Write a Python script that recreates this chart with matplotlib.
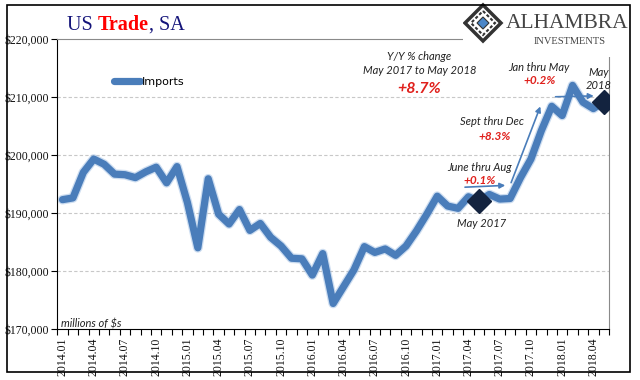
import numpy as np
import matplotlib
matplotlib.use("Agg")
import matplotlib.pyplot as plt
from matplotlib.patches import Rectangle, Polygon
from matplotlib.ticker import FuncFormatter, FixedLocator

# данные: импорт США, млн $, с сезонной корректировкой
months = ["2014.01", "2014.02", "2014.03", "2014.04", "2014.05", "2014.06",
          "2014.07", "2014.08", "2014.09", "2014.10", "2014.11", "2014.12",
          "2015.01", "2015.02", "2015.03", "2015.04", "2015.05", "2015.06",
          "2015.07", "2015.08", "2015.09", "2015.10", "2015.11", "2015.12",
          "2016.01", "2016.02", "2016.03", "2016.04", "2016.05", "2016.06",
          "2016.07", "2016.08", "2016.09", "2016.10", "2016.11", "2016.12",
          "2017.01", "2017.02", "2017.03", "2017.04", "2017.05", "2017.06",
          "2017.07", "2017.08", "2017.09", "2017.10", "2017.11", "2017.12",
          "2018.01", "2018.02", "2018.03", "2018.04", "2018.05"]
imports = [192300, 192600, 197000, 199300, 198400, 196700,
           196600, 196100, 197100, 197900, 195200, 198000,
           191800, 184000, 195900, 189800, 188100, 190600,
           187000, 188200, 185800, 184300, 182200, 182100,
           179300, 183000, 174400, 177300, 180200, 184200,
           183200, 183800, 182700, 184300, 186900, 189800,
           192900, 191200, 190800, 192800, 192000, 193200,
           192400, 192500, 196100, 199300, 204200, 208400,
           206800, 212000, 209100, 208000, 209200]
highlight = ["2017.05", "2018.05"]
y_ticks = [170000, 180000, 190000, 200000, 210000, 220000]

blue = "#4a7dba"
navy = "#13233f"
red = "#e0201c"
txt = "#222222"

fig = plt.figure(figsize=(6.4, 3.8), dpi=100)
ax = fig.add_axes([57.3 / 640, 51 / 380, 551.7 / 640, 290 / 380])

x = np.arange(len(months))
ax.plot(x, imports, color="#9dbde3", lw=7, alpha=0.5, solid_joinstyle="round",
        solid_capstyle="round", zorder=2)
ax.plot(x, imports, color=blue, lw=5.2, solid_joinstyle="round",
        solid_capstyle="round", zorder=3, label="Imports")
hi = [months.index(m) for m in highlight]
ax.plot(hi, [imports[i] for i in hi], ls="none", marker="D", ms=12.5,
        color=navy, zorder=5)

ax.set_xlim(-0.5, len(months) - 0.5)
ax.set_ylim(y_ticks[0], y_ticks[-1])
ax.yaxis.set_major_locator(FixedLocator(y_ticks))
ax.yaxis.set_major_formatter(FuncFormatter(lambda v, p: "${:,.0f}".format(v)))
ax.set_xticks(x[::3])
ax.set_xticklabels(months[::3], rotation=90)
ax.set_xticks(np.arange(-0.5, len(months)), minor=True)
ax.tick_params(axis="x", which="major", length=0, pad=6)
ax.tick_params(axis="x", which="minor", length=4, width=0.8, color="black")
ax.tick_params(axis="y", length=4, width=0.8, pad=2)
for lab in ax.get_xticklabels() + ax.get_yticklabels():
    lab.set_fontfamily("Liberation Serif")
    lab.set_fontsize(8.5)
    lab.set_color("#111111")

for v in y_ticks[1:-1]:
    ax.axhline(v, color="#c8c8c8", lw=0.8, ls=(0, (3, 2)), zorder=1)
ax.spines["left"].set_color("black")
ax.spines["bottom"].set_color("black")
ax.spines["top"].set_color("#8a8a8a")
ax.spines["right"].set_color("#8a8a8a")

leg = ax.legend(loc="upper left", bbox_to_anchor=(0.085, 0.905), frameon=False,
                handlelength=2.3, handletextpad=0.2, prop={"family": "DejaVu Sans", "size": 8})

# подписи
it = dict(fontsize=8, style="italic", family="Lato", color=txt, ha="center", va="center")
rb = dict(fontsize=8.5, style="italic", weight="bold", family="Lato", color=red,
          ha="center", va="center")
ax.text(34.3, 216900, "Y/Y % change", **it)
ax.text(34.3, 214650, "May 2017 to May 2018", **it)
ax.text(34.3, 211300, "+8.7%", **dict(rb, fontsize=11.5))
ax.text(45.8, 215170, "Jan thru May", **it)
ax.text(45.8, 212760, "+0.2%", **rb)
ax.text(51.5, 214140, "May", **it)
ax.text(51.5, 211900, "2018", **it)
ax.text(41.3, 205690, "Sept thru Dec", **it)
ax.text(41.5, 203270, "+8.3%", **rb)
ax.text(40.1, 197760, "June thru Aug", **it)
ax.text(40.1, 195520, "+0.1%", **rb)
ax.text(40.3, 188270, "May 2017", **it)
ax.text(-0.1, 170900, "millions of $s", **dict(it, ha="left"))

arr = dict(arrowstyle="-|>", color=blue, lw=1.2, mutation_scale=8)
ax.annotate("", xy=(42.8, 194780), xytext=(38.4, 194430), arrowprops=arr)
ax.annotate("", xy=(46.0, 208820), xytext=(43.0, 194780), arrowprops=arr)
ax.annotate("", xy=(51.3, 210200), xytext=(47.1, 210030), arrowprops=arr)

# заголовок из трёх частей
fig.canvas.draw()
rend = fig.canvas.get_renderer()
parts = [("US ", "#14147a", "normal"), ("Trade", "#ff0000", "bold"), (", SA", "#14147a", "normal")]
xp = 67 / 640
for s, c, w in parts:
    t = fig.text(xp, 1 - 25 / 380, s, color=c, weight=w, family="Liberation Serif",
                 fontsize=14.5, va="center", ha="left")
    bb = t.get_window_extent(rend)
    xp = bb.x1 / 640

# логотип
lg = fig.add_axes([463 / 640, 323 / 380, 162 / 640, 55 / 380])
lg.set_xlim(0, 162)
lg.set_ylim(0, 55)
lg.axis("off")
lg.add_patch(Rectangle((0, 0), 162, 55, color="white", zorder=0))
cx, cy, r = 20, 34, 18
lg.add_patch(Polygon([(cx, cy + r), (cx + r, cy), (cx, cy - r), (cx - r, cy)],
                     closed=True, fc="none", ec="#333333", lw=2.5))
lg.add_patch(Polygon([(cx, cy + r - 6), (cx + r - 6, cy), (cx, cy - r + 6), (cx - r + 6, cy)],
                     closed=True, fc="none", ec="#333333", lw=1.5, ls=(0, (1.5, 1))))
lg.add_patch(Polygon([(cx, cy + 6), (cx + 6, cy), (cx, cy - 6), (cx - 6, cy)],
                     closed=True, fc="#4a86c8", ec="#333333", lw=0.8))
lg.text(104, 34, "ALHAMBRA", family="Liberation Serif", fontsize=15.5, color="#444444",
        ha="center", va="center")
lg.text(107, 16, "INVESTMENTS", family="Liberation Serif", fontsize=7.5, color="#444444",
        ha="center", va="center")

fig.patches.append(Rectangle((7 / 640, 8 / 380), 623 / 640, 367 / 380, fill=False,
                             ec="black", lw=1.2, transform=fig.transFigure, figure=fig))

fig.savefig("out.png", dpi=100)
